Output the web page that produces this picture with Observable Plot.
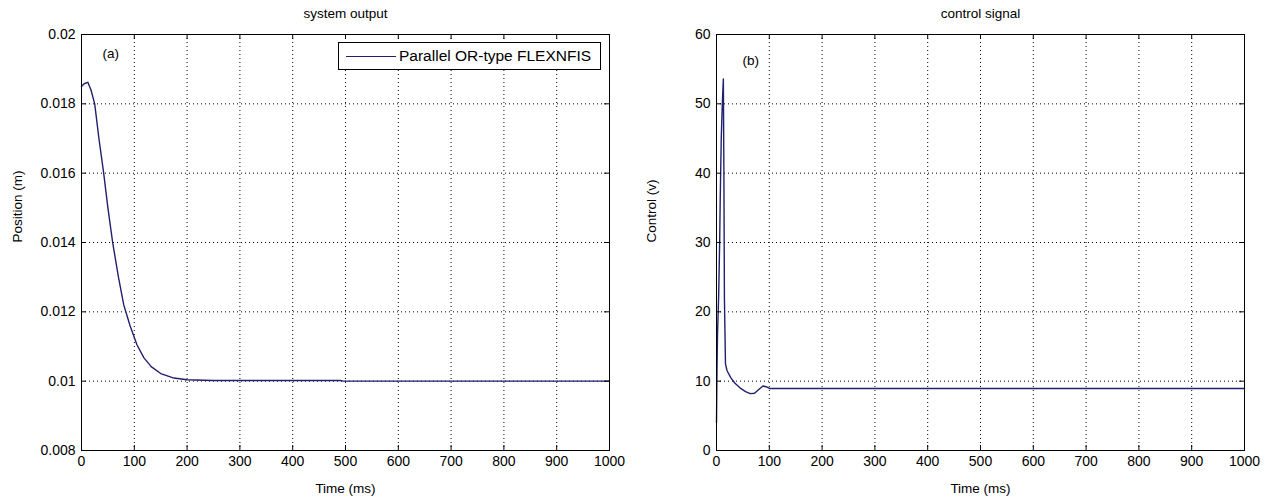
<!DOCTYPE html>
<html><head><meta charset="utf-8">
<script src="https://cdn.jsdelivr.net/npm/d3@7"></script>
<script src="https://cdn.jsdelivr.net/npm/@observablehq/plot@0.6"></script>
<style>
body{margin:0;background:#fff;font-family:"Liberation Sans",Arial,sans-serif;}
#wrap{position:relative;width:1268px;height:498px;overflow:hidden;background:#fff;}
.panel{position:absolute;top:0;}
.legend{position:absolute;left:338px;top:42px;width:261px;height:26px;border:1px solid #000;background:#fff;display:flex;align-items:center;font-size:15.5px;color:#000;box-sizing:content-box;white-space:nowrap;}
.legend .swatch{display:inline-block;width:50px;height:0;border-top:1.4px solid #20206e;margin-left:7px;margin-right:3px;}
</style></head><body><div id="wrap"></div>
<script>
// ---- data ----
const xTicks = [0,100,200,300,400,500,600,700,800,900,1000];

const posTime  = [0, 5, 12, 18, 25, 33, 42, 50, 59, 70, 80, 92, 105, 118, 132, 150, 175, 200, 250, 490, 495, 1000];
const posValue = [0.0185, 0.01858, 0.01862, 0.0184, 0.0180, 0.0170, 0.0160, 0.0150, 0.0140, 0.0130, 0.0122, 0.0116, 0.01105, 0.01068, 0.01042, 0.01022, 0.01009, 0.01004, 0.01002, 0.01002, 0.0100, 0.0100];
const posTicks = [0.008, 0.01, 0.012, 0.014, 0.016, 0.018, 0.02];

const ctrlTime  = [0, 0.5, 1, 2, 4, 6, 7, 9, 11, 13, 14, 15, 17, 20, 27, 35, 45, 55, 64, 72, 80, 88, 94, 100, 1000];
const ctrlValue = [4, 8, 12, 17, 22, 30, 36, 45, 50, 53.6, 40, 22, 12.5, 11.5, 10.5, 9.7, 9.0, 8.5, 8.2, 8.25, 8.8, 9.3, 9.2, 8.95, 8.95];
const ctrlTicks = [0, 10, 20, 30, 40, 50, 60];

const seriesName = "Parallel OR-type FLEXNFIS";
const lineColor = "#20206e";

// ---- drawing ----
const W = 634, H = 498, MT = 34, MB = 48;
const font = '"Liberation Sans", Arial, sans-serif';

function panel({times, values, yDomain, yTicks, yFmt, title, ylabel, tag, ml, mr, tagDx, tagDy}) {
  const data = times.map((t, i) => ({t, v: values[i]}));
  const ph = H - MT - MB, pw = W - ml - mr;
  const dots = {stroke: "#000", strokeOpacity: 1, strokeWidth: 1, strokeDasharray: "1,3"};
  return Plot.plot({
    width: W, height: H, marginTop: MT, marginBottom: MB, marginLeft: ml, marginRight: mr,
    x: {domain: [0, 1000]},
    y: {domain: yDomain},
    style: {fontFamily: font, fontSize: "13.5px", color: "#000", background: "transparent", overflow: "visible"},
    marks: [
      Plot.gridX(xTicks.slice(1, -1), dots),
      Plot.gridY(yTicks.slice(1, -1), dots),
      Plot.line(data, {x: "t", y: "v", stroke: lineColor, strokeWidth: 1.4}),
      Plot.tickX(xTicks, {x: d => d, insetTop: ph - 5, stroke: "#000"}),
      Plot.tickX(xTicks, {x: d => d, insetBottom: ph - 5, stroke: "#000"}),
      Plot.tickY(yTicks, {y: d => d, insetRight: pw - 5, stroke: "#000"}),
      Plot.tickY(yTicks, {y: d => d, insetLeft: pw - 5, stroke: "#000"}),
      Plot.frame({stroke: "#000", strokeWidth: 1}),
      Plot.axisX(xTicks, {tickSize: 0, tickPadding: 6, label: null, tickFormat: d => String(d), fontSize: 14}),
      Plot.axisY(yTicks, {tickSize: 0, tickPadding: 6, label: null, tickFormat: yFmt, fontSize: 14}),
      Plot.text([title], {frameAnchor: "top", dy: -21, lineAnchor: "middle", text: d => d, fontSize: 13.5}),
      Plot.text(["Time (ms)"], {frameAnchor: "bottom", dy: 38, lineAnchor: "middle", text: d => d, fontSize: 13.5}),
      Plot.text([ylabel], {frameAnchor: "left", dx: -(ml - 17), rotate: -90, text: d => d, fontSize: 13.5}),
      Plot.text([tag], {frameAnchor: "top-left", dx: tagDx, dy: tagDy, lineAnchor: "middle", text: d => d, fontSize: 13.5})
    ]
  });
}

const wrap = document.getElementById("wrap");
const left = panel({times: posTime, values: posValue, yDomain: [0.008, 0.02], yTicks: posTicks,
  yFmt: d => String(+d.toFixed(3)), title: "system output", ylabel: "Position (m)", tag: "(a)",
  ml: 81, mr: 25, tagDx: 21, tagDy: 19});
left.classList.add("panel"); left.style.left = "0px";
const right = panel({times: ctrlTime, values: ctrlValue, yDomain: [0, 60], yTicks: ctrlTicks,
  yFmt: d => String(d), title: "control signal", ylabel: "Control (v)", tag: "(b)",
  ml: 82, mr: 24, tagDx: 26, tagDy: 26});
right.classList.add("panel"); right.style.left = "634px";
wrap.appendChild(left); wrap.appendChild(right);

const lg = document.createElement("div");
lg.className = "legend";
lg.innerHTML = '<span class="swatch"></span><span></span>';
lg.lastChild.textContent = seriesName;
wrap.appendChild(lg);
</script>
</body></html>
